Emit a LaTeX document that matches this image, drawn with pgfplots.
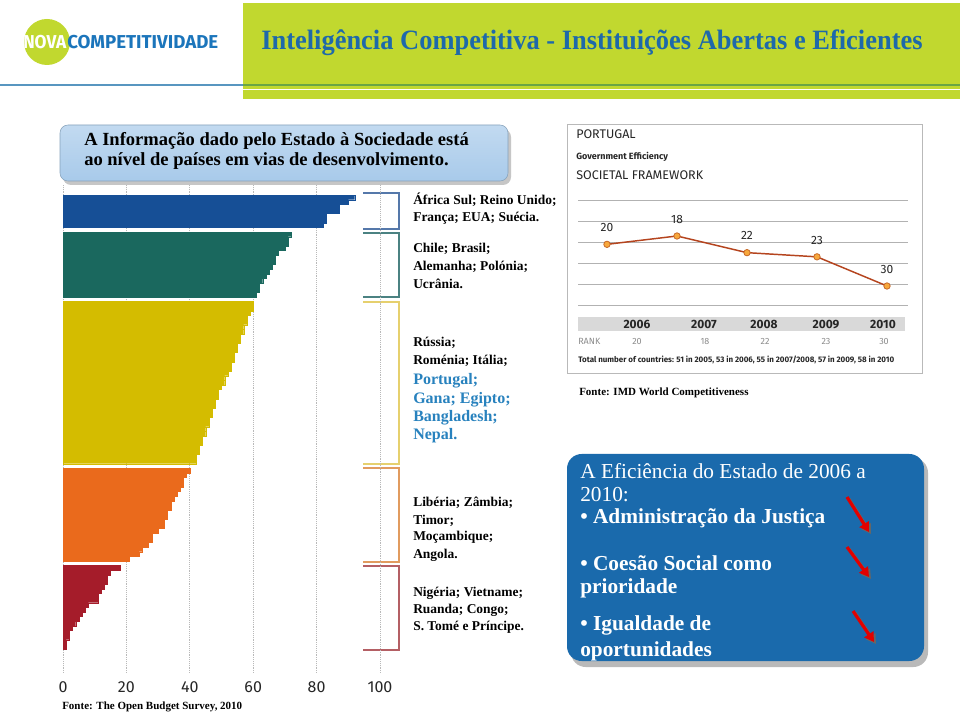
\documentclass[border=0pt]{standalone}
\usepackage{fontspec}
\setmainfont{Liberation Serif}
\newfontfamily\din{Fira Sans}
\usepackage{graphicx}
\usepackage{pgfplots}
\pgfplotsset{compat=1.18}
\usetikzlibrary{arrows.meta}
\definecolor{bandgreen}{RGB}{193,216,47}
\definecolor{titleblue}{RGB}{30,105,170}
\definecolor{logoblue}{RGB}{27,117,187}
\definecolor{steel}{RGB}{88,150,192}
\definecolor{darkgreenline}{RGB}{105,165,70}
\definecolor{cBlue}{RGB}{22,79,150}
\definecolor{cTeal}{RGB}{26,104,94}
\definecolor{cYellow}{RGB}{212,188,0}
\definecolor{cOrange}{RGB}{234,106,28}
\definecolor{cRed}{RGB}{165,28,42}
\definecolor{bBlue}{RGB}{85,120,170}
\definecolor{bTeal}{RGB}{75,130,130}
\definecolor{bYellow}{RGB}{230,208,110}
\definecolor{bOrange}{RGB}{225,155,95}
\definecolor{bRed}{RGB}{180,95,100}
\definecolor{ptblue}{RGB}{40,130,190}
\definecolor{boxblue}{RGB}{26,106,172}
\definecolor{lightbox}{RGB}{168,202,234}
\definecolor{lineRed}{RGB}{181,68,30}
\definecolor{markOrange}{RGB}{247,168,60}
\definecolor{markEdge}{RGB}{200,105,40}
\definecolor{arrowred}{RGB}{225,0,0}
\begin{document}
\begin{tikzpicture}
\begin{scope}[x=0.75pt,y=-0.75pt]
\path[use as bounding box, fill=white] (0,0) rectangle (960,712);
% header
\fill[bandgreen] (243,3) rectangle (960,99);
\draw[steel, line width=2.2pt] (0,85) -- (243,85);
\draw[darkgreenline, line width=2.2pt] (243,85) -- (960,85);
\draw[white, line width=1.1pt] (243,89.5) -- (960,89.5);
\fill[bandgreen] (47,42) circle (23);
\node[anchor=base west, inner sep=0, text=white] at (23,48.5) {\resizebox{32.25pt}{\height}{\din\fontsize{14}{14}\selectfont\bfseries NOVA}};
\node[anchor=base west, inner sep=0, text=logoblue] at (67,48.5) {\resizebox{113.25pt}{\height}{\din\fontsize{14}{14}\selectfont\bfseries COMPETITIVIDADE}};
\node[anchor=base west, inner sep=0, text=titleblue] at (261,50) {\resizebox{496pt}{\height}{\fontsize{21}{21}\selectfont\bfseries Inteligência Competitiva - Instituições Abertas e Eficientes}};
% top-left box
\fill[gray!45, rounded corners=6pt] (63,129) rectangle (511,185);
\shade[top color=lightbox!70!white, bottom color=lightbox, rounded corners=6pt, draw=lightbox!80!black] (60,125) rectangle (508,181);
\node[anchor=base west, inner sep=0, font=\fontsize{13.9}{16}\selectfont\bfseries] at (84,146) {A Informação dado pelo Estado à Sociedade está};
\node[anchor=base west, inner sep=0, font=\fontsize{13.9}{16}\selectfont\bfseries] at (84,166) {ao nível de países em vias de desenvolvimento.};
% brackets
\draw[bBlue, line width=1.1pt] (363,193) -- (399,193) -- (399,229) -- (363,229);
\draw[bTeal, line width=1.1pt] (363,233) -- (399,233) -- (399,297) -- (363,297);
\draw[bYellow, line width=1.1pt] (363,302) -- (399,302) -- (399,464) -- (363,464);
\draw[bOrange, line width=1.1pt] (363,468) -- (399,468) -- (399,562) -- (363,562);
\draw[bRed, line width=1.1pt] (363,566) -- (399,566) -- (399,650) -- (363,650);
% country texts
\tikzset{cn/.style={anchor=base west, inner sep=0, font=\fontsize{10.1}{12}\selectfont\bfseries},
 cb/.style={anchor=base west, inner sep=0, text=ptblue, font=\fontsize{12}{14}\selectfont\bfseries}}
\node[cn] at (413,205) {África Sul; Reino Unido;};
\node[cn] at (413,222) {França; EUA; Suécia.};
\node[cn] at (413,253) {Chile; Brasil;};
\node[cn] at (413,271) {Alemanha; Polónia;};
\node[cn] at (413,289) {Ucrânia.};
\node[cn] at (413,347) {Rússia;};
\node[cn] at (413,365) {Roménia; Itália;};
\node[cb] at (413,385) {Portugal;};
\node[cb] at (413,404) {Gana; Egipto;};
\node[cb] at (413,422) {Bangladesh;};
\node[cb] at (413,440) {Nepal.};
\node[cn] at (413,507) {Libéria; Zâmbia;};
\node[cn] at (413,524) {Timor;};
\node[cn] at (413,541) {Moçambique;};
\node[cn] at (413,558) {Angola.};
\node[cn] at (413,596) {Nigéria; Vietname;};
\node[cn] at (413,613) {Ruanda; Congo;};
\node[cn] at (413,630) {S. Tomé e Príncipe.};
\node[anchor=base west, inner sep=0, font=\fontsize{8.25}{10}\selectfont\bfseries] at (62,709) {Fonte: The Open Budget Survey, 2010};
% IMD panel
\draw[gray!55, line width=0.75pt] (567,125) rectangle (922,374);
\node[anchor=base west, inner sep=0, font=\din\fontsize{9.4}{11}\selectfont, text=black!85] at (576,138.5) {PORTUGAL};
\node[anchor=base west, inner sep=0, font=\din\fontsize{6.75}{8}\selectfont\bfseries, text=black!85] at (576,159.5) {Government Efficiency};
\node[anchor=base west, inner sep=0, font=\din\fontsize{9.4}{11}\selectfont, text=black!85] at (576,179.5) {SOCIETAL FRAMEWORK};
\fill[gray!30] (578,317) rectangle (905,331);
\foreach \xx/\yy in {637/2006,704/2007,764/2008,826/2009,883/2010}
  \node[anchor=base, inner sep=0, font=\din\fontsize{9}{10}\selectfont\bfseries, text=black!85] at (\xx,328.5) {\yy};
\node[anchor=base west, inner sep=0, font=\din\fontsize{6.75}{8}\selectfont, text=black!45] at (578,344.5) {RANK};
\foreach \xx/\yy in {637/20,705/18,765/22,826/23,884/30}
  \node[anchor=base, inner sep=0, font=\din\fontsize{6.75}{8}\selectfont, text=black!45] at (\xx,344.5) {\yy};
\node[anchor=base west, inner sep=0, text=black!85] at (578,363) {\resizebox{237pt}{\height}{\din\fontsize{6}{7}\selectfont\bfseries Total number of countries: 51 in 2005, 53 in 2006, 55 in 2007/2008, 57 in 2009, 58 in 2010}};
\node[anchor=base west, inner sep=0, font=\fontsize{8.25}{10}\selectfont\bfseries] at (579,396) {Fonte: IMD World Competitiveness};
% bottom-right box
\fill[gray!55, rounded corners=11pt] (571,458) rectangle (928,667);
\fill[boxblue, rounded corners=11pt] (567,454) rectangle (924,661);
\tikzset{wt/.style={anchor=base west, inner sep=0, text=white, font=\fontsize{16}{18}\selectfont},
 wb/.style={anchor=base west, inner sep=0, text=white, font=\fontsize{16}{18}\selectfont\bfseries}}
\node[wt] at (580,479) {A Eficiência do Estado de 2006 a};
\node[wt] at (580,502) {2010:};
\node[wb] at (580,523) {• Administração da Justiça};
\node[wb] at (580,570) {• Coesão Social como};
\node[wb] at (580,593) {prioridade};
\node[wb] at (580,630) {• Igualdade de};
\node[wb] at (580,656) {oportunidades};
\foreach \ax/\ay/\bx/\by in {847/497/869/532, 847/547/869/577, 853/611/874/642}{
  \draw[black!60, line width=2.4pt, -{Triangle[length=7pt,width=8pt]}] (\ax+2,\ay+2) -- (\bx+2,\by+2);
  \draw[arrowred, line width=2.4pt, -{Triangle[length=7pt,width=8pt]}] (\ax,\ay) -- (\bx,\by);
}
\end{scope}
% Open Budget bar chart
\begin{axis}[at={(47.25pt,-504.75pt)}, anchor=south west, scale only axis,
  width=237.75pt, height=366pt, xmin=0, xmax=100, ymin=-1.66, ymax=103.68, y dir=reverse,
  /pgf/number format/assume math mode=true,
  xtick={0,20,40,60,80,100}, ytick=\empty, xmajorgrids,
  grid style={densely dotted, gray!55, line width=0.6pt},
  axis line style={draw=none}, tick style={draw=none},
  xticklabel style={font=\din\fontsize{12}{12}\selectfont, text=black!85, yshift=-3pt},
  every axis plot/.append style={xbar, bar width=1, bar shift=0pt, line width=0.2pt}]
\addplot[fill=cBlue, draw=cBlue] coordinates {(92,1)(90,2)(87,3)(87,4)(83,5)(83,6)(82,7)};
\addplot[fill=cTeal, draw=cTeal] coordinates {(72,9)(71,10)(71,11)(70,12)(68,13)(67,14)(67,15)(66,16)(65,17)(64,18)(63,19)(62,20)(62,21)(61,22)};
\addplot[fill=cYellow, draw=cYellow] coordinates {(60,24)(60,25)(59,26)(58,27)(58,28)(57,29)(57,30)(56,31)(56,32)(55,33)(55,34)(54,35)(54,36)(53,37)(53,38)(52,39)(51,40)(51,41)(50,42)(49,43)(49,44)(48,45)(48,46)(47,47)(47,48)(46,49)(46,50)(45,51)(45,52)(44,53)(44,54)(43,55)(43,56)(42,57)(42,58)};
\addplot[fill=cOrange, draw=cOrange] coordinates {(40,60)(39,61)(38,62)(38,63)(37,64)(36,65)(35,66)(34,67)(34,68)(33,69)(33,70)(32,71)(32,72)(30,73)(28,74)(28,75)(27,76)(25,77)(24,78)(21,79)};
\addplot[fill=cRed, draw=cRed] coordinates {(18,81)(15,82)(14,83)(14,84)(13,85)(12,86)(11,87)(11,88)(8,89)(7,90)(6,91)(5,92)(4,93)(3,94)(2,95)(2,96)(1,97)(1,98)};
\end{axis}
% IMD rank chart
\begin{axis}[at={(433.5pt,-229.5pt)}, anchor=south west, scale only axis,
  width=247.5pt, height=78.75pt, xmin=0.586, xmax=5.3, ymin=9.6, ymax=34.8, y dir=reverse,
  /pgf/number format/assume math mode=true,
  ytick={9.6,14.64,19.68,24.72,29.76,34.8}, yticklabels={}, xtick=\empty, ymajorgrids,
  grid style={gray!60, line width=0.75pt}, axis line style={draw=none}, tick style={draw=none}, clip=false]
\addplot[color=lineRed, line width=1.1pt, mark=*, mark size=2.4pt,
  mark options={fill=markOrange, draw=markEdge, line width=0.6pt},
  nodes near coords, every node near coord/.append style={font=\din\fontsize{9}{10}\selectfont, text=black!85, anchor=base, inner sep=0pt, yshift=9.5pt}]
  coordinates {(1,20)(2,18)(3,22)(4,23)(5,30)};
\end{axis}
\end{tikzpicture}
\end{document}
